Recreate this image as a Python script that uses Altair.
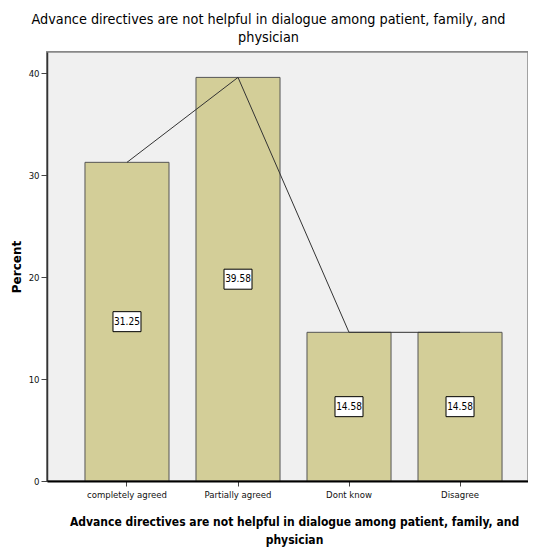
import altair as alt
import pandas as pd

categories = ["completely agreed", "Partially agreed", "Dont know", "Disagree"]
percents = [31.25, 39.58, 14.58, 14.58]
labels = ["31.25", "39.58", "14.58", "14.58"]
y_ticks = [0, 10, 20, 30, 40]

df = pd.DataFrame({"cat": categories, "pct": percents, "lab": labels})
df["mid"] = df["pct"] / 2

NARROW = "Liberation Sans Narrow, DejaVu Sans Condensed, Arial Narrow, sans-serif"
W, H = 481, 429

x_enc = alt.X(
    "cat:N",
    sort=categories,
    scale=alt.Scale(paddingInner=0.243, paddingOuter=0.288, align=0.594, round=False),
    axis=alt.Axis(
        title=["Advance directives are not helpful in dialogue among patient, family, and", "physician"],
        titleFont=NARROW, titleFontSize=12, titleFontWeight="bold", titleColor="#000",
        titleLineHeight=18, titlePadding=18, titleX=247, titleAlign="center",
        labelAngle=0, labelFont=NARROW, labelFontSize=9.5, labelColor="#111", labelPadding=3,
        tickSize=5, tickColor="#444", domainColor="#000", domainWidth=2, zindex=2,
    ),
)
y_scale = alt.Scale(domain=[0, 42.07], nice=False, zero=True)
y_axis = alt.Axis(
    title="Percent", titleFont="DejaVu Sans", titleFontSize=12, titleFontWeight="bold",
    titleColor="#000", titlePadding=5,
    values=y_ticks, labelFont=NARROW, labelFontSize=9.5, labelColor="#111",
    tickSize=6, tickColor="#444", domainColor="#333", domainWidth=1.5, grid=False,
    labelPadding=2, zindex=1,
)

bg = alt.Chart(df).mark_rect(fill="#F0F0F0", stroke="#888888", strokeWidth=1.5).encode(
    x=alt.value(0), x2=alt.value(W), y=alt.value(0), y2=alt.value(H),
)

bars = alt.Chart(df).mark_bar(color="#D3CE98", stroke="#555555", strokeWidth=1).encode(
    x=x_enc,
    y=alt.Y("pct:Q", scale=y_scale, axis=y_axis),
)

line = alt.Chart(df).mark_line(color="#333333", strokeWidth=1).encode(
    x=alt.X("cat:N", sort=categories),
    y=alt.Y("pct:Q"),
)

boxes = alt.Chart(df).mark_point(
    shape="M-1,-0.714H1V0.714H-1Z", size=784, filled=True,
    fill="white", stroke="black", strokeWidth=1, opacity=1,
).encode(
    x=alt.X("cat:N", sort=categories),
    y=alt.Y("mid:Q"),
)

texts = alt.Chart(df).mark_text(font=NARROW, fontSize=10, color="#000", baseline="middle").encode(
    x=alt.X("cat:N", sort=categories),
    y=alt.Y("mid:Q"),
    text="lab:N",
)

chart = alt.layer(bg, bars, line, boxes, texts).properties(
    width=W,
    height=H,
    padding={"left": 39, "top": 44, "right": 0, "bottom": 66},
    autosize=alt.AutoSizeParams(type="none"),
    title=alt.TitleParams(
        text=["Advance directives are not helpful in dialogue among patient, family, and", "physician"],
        font=NARROW, fontSize=14.3, fontWeight="normal", color="#000",
        lineHeight=18, anchor="middle", dx=-19, offset=6,
    ),
).configure_view(
    fill="#F0F0F0", stroke="#888888", strokeWidth=1.5,
).configure(background="white")

chart.save("out.html", embed_options={"renderer": "svg", "actions": False})
